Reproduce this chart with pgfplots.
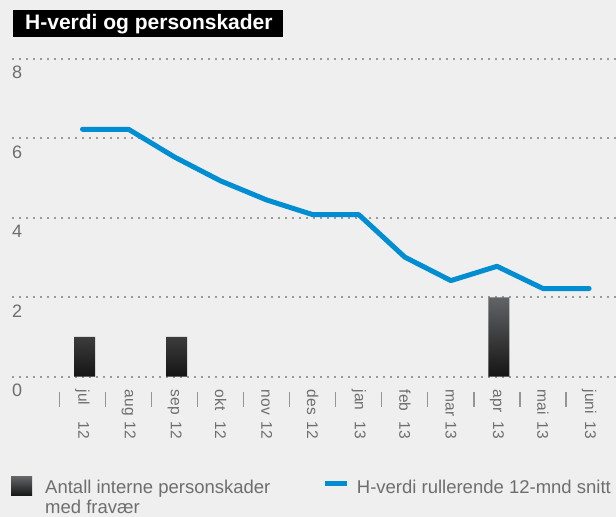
\documentclass[border=0pt]{standalone}
\usepackage{pgfplots}
\pgfplotsset{compat=1.18}
\usepackage{fontspec}
\setmainfont{Liberation Sans}
\definecolor{bg}{HTML}{EFEFEF}
\definecolor{gridc}{HTML}{9A9A9A}
\definecolor{sepc}{HTML}{959595}
\definecolor{txt}{HTML}{6E6E6E}
\definecolor{hblue}{HTML}{008DD2}
\definecolor{bartop}{HTML}{636467}
\definecolor{barbot}{HTML}{141414}
\newcommand{\xl}[1]{\makebox[49bp][s]{#1}}
\begin{document}
\begin{tikzpicture}
\fill[bg] (0,0) rectangle (616bp,517bp);
\begin{axis}[
  at={(12bp,140.3bp)}, anchor=south west,
  scale only axis, width=604bp, height=317.7bp,
  xmin=-1.531, xmax=11.585, ymin=0, ymax=8,
  ytick={0,2,4,6,8},
  xtick={0,...,11},
  xticklabels={\xl{jul 12},\xl{aug 12},\xl{sep 12},\xl{okt 12},\xl{nov 12},\xl{des 12},\xl{jan 13},\xl{feb 13},\xl{mar 13},\xl{apr 13},\xl{mai 13},\xl{juni 13}},
  minor xtick={-0.5,0.5,1.5,2.5,3.5,4.5,5.5,6.5,7.5,8.5,9.5,10.5},
  tick pos=left, tick align=outside,
  major tick length=0pt, minor tick length=15bp,
  major tick style={draw=none},
  minor x tick style={draw=sepc, line width=1.2bp, yshift=-15bp},
  axis line style={draw=none},
  ymajorgrids,
  grid style={draw=gridc, line width=2bp, dash pattern=on 2bp off 5bp},
  /pgf/number format/assume math mode=true,
  yticklabel style={anchor=north west, inner sep=0pt, yshift=-7bp, text=txt, font=\fontsize{18bp}{18bp}\selectfont},
  xticklabel style={rotate=-90, anchor=west, inner sep=0pt, text=txt, font=\fontsize{15.5bp}{16bp}\selectfont},
  xticklabel shift=13bp,
  clip=false,
]
\addplot[ybar, bar width=21bp, bar shift=2bp, draw=none, top color=bartop, bottom color=barbot] coordinates {(0,1) (2,1) (9,2)};
\addplot[hblue, line width=5bp, line cap=round, line join=round, mark=none] coordinates {
(0,6.23) (1,6.23) (2,5.53) (3,4.93) (4,4.45) (5,4.08) (6,4.08) (7,3.01) (8,2.42) (9,2.78) (10,2.22) (11,2.22)};
\end{axis}
% title
\fill[black] (12.7bp,480bp) rectangle (283bp,507bp);
\node[anchor=base west, inner sep=0pt, text=white, font=\fontsize{21bp}{21bp}\selectfont\bfseries] at (25bp,487.7bp) {H-verdi og personskader};
% legend
\shade[top color=bartop, bottom color=barbot] (11bp,21bp) rectangle (32bp,40.3bp);
\node[anchor=base west, inner sep=0pt, text=txt, font=\fontsize{18.5bp}{23bp}\selectfont] at (45bp,23.7bp) {Antall interne personskader};
\node[anchor=base west, inner sep=0pt, text=txt, font=\fontsize{18.5bp}{23bp}\selectfont] at (45bp,3.5bp) {med fravær};
\draw[hblue, line width=5bp] (325bp,33.7bp) -- (346.7bp,33.7bp);
\node[anchor=base west, inner sep=0pt, text=txt, font=\fontsize{18.5bp}{23bp}\selectfont] at (356.7bp,23.7bp) {H-verdi rullerende 12-mnd snitt};
\pgfresetboundingbox
\useasboundingbox (0,0) rectangle (616bp,517bp);
\end{tikzpicture}
\end{document}
